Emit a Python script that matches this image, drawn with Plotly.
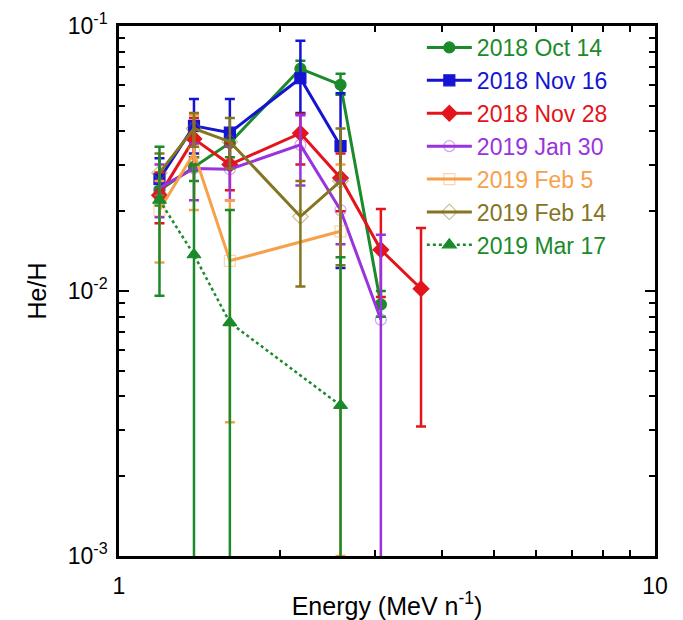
import plotly.graph_objects as go

# Energies (MeV/n)
E = [1.19, 1.38, 1.61, 2.18, 2.59, 3.08, 3.66]

names = ["2018 Oct 14", "2018 Nov 16", "2018 Nov 28", "2019 Jan 30",
         "2019 Feb 5", "2019 Feb 14", "2019 Mar 17"]
colors = ["#1a8a2a", "#1414d2", "#e3141b", "#9933dd", "#f7a04a", "#857420", "#1a8a2a"]

oct14_x = [E[0], E[1], E[2], E[3], E[4], E[5]]
oct14_y = [0.024, 0.0294, 0.0362, 0.069, 0.060, 0.0089]
oct14_hi = [0.027, 0.032, 0.040, 0.074, 0.066, 0.0100]
oct14_lo = [0.021, 0.026, 0.032, 0.064, 0.055, 0.0080]

nov16_x = [E[0], E[1], E[2], E[3], E[4]]
nov16_y = [0.0265, 0.042, 0.0396, 0.0635, 0.0352]
nov16_hi = [0.0317, 0.053, 0.053, 0.088, 0.0558]
nov16_lo = [0.022, 0.033, 0.030, 0.047, 0.0122]

nov28_x = [E[0], E[1], E[2], E[3], E[4], E[5], E[6]]
nov28_y = [0.0230, 0.0375, 0.030, 0.0394, 0.0267, 0.0143, 0.0102]
nov28_hi = [0.028, 0.045, 0.036, 0.0466, 0.033, 0.0204, 0.0173]
nov28_lo = [0.018, 0.030, 0.024, 0.030, 0.020, 0.0095, 0.00308]

jan30_x = [E[0], E[1], E[2], E[3], E[4], E[5]]
jan30_y = [0.0245, 0.029, 0.0288, 0.0356, 0.0202, 0.0078]
jan30_hi = [0.030, 0.036, 0.035, 0.046, 0.026, 0.0163]
jan30_lo = [0.019, 0.022, 0.022, 0.025, 0.015, 0.0005]

feb5_x = [E[0], E[1], E[2], E[4]]
feb5_y = [0.0202, 0.0332, 0.013, 0.0168]
feb5_hi = [0.026, 0.046, 0.022, 0.030]
feb5_lo = [0.0128, 0.0202, 0.0032, 0.001]

feb14_x = [E[0], E[1], E[2], E[3], E[4]]
feb14_y = [0.0279, 0.041, 0.0366, 0.0191, 0.026]
feb14_hi = [0.033, 0.047, 0.045, 0.026, 0.041]
feb14_lo = [0.023, 0.035, 0.029, 0.0104, 0.0125]

mar17_x = [E[0], E[1], E[2], E[4]]
mar17_y = [0.022, 0.0137, 0.0076, 0.0037]
mar17_hi = [0.035, 0.030, 0.0202, 0.0134]
mar17_lo = [0.0096, 0.0005, 0.0005, 0.0005]

series = [
    (oct14_x, oct14_y, oct14_hi, oct14_lo, "circle", 11, "solid"),
    (nov16_x, nov16_y, nov16_hi, nov16_lo, "square", 11, "solid"),
    (nov28_x, nov28_y, nov28_hi, nov28_lo, "diamond", 12, "solid"),
    (jan30_x, jan30_y, jan30_hi, jan30_lo, "circle-open", 11, "solid"),
    (feb5_x, feb5_y, feb5_hi, feb5_lo, "square-open", 11, "solid"),
    (feb14_x, feb14_y, feb14_hi, feb14_lo, "diamond-open", 12, "solid"),
    (mar17_x, mar17_y, mar17_hi, mar17_lo, "triangle-up", 12, "dot"),
]

fig = go.Figure()
for i, (xs, ys, hi, lo, sym, sz, dash) in enumerate(series):
    c = colors[i]
    openm = sym.endswith("open")
    fig.add_trace(go.Scatter(
        x=xs, y=ys, mode="lines+markers",
        name=f"<span style='color:{c}'>{names[i]}</span>",
        line=dict(color=c, width=3 if dash == "solid" else 2.5, dash=dash),
        marker=dict(symbol=sym, size=sz, color=c,
                    opacity=0.45 if openm else 1, line=dict(width=1.2, color=c)),
        error_y=dict(type="data", symmetric=False,
                     array=[h - y for h, y in zip(hi, ys)],
                     arrayminus=[y - l for l, y in zip(lo, ys)],
                     color=c, thickness=2.5, width=5),
    ))

font = "Liberation Sans, Arial, sans-serif"
fig.update_layout(
    width=683, height=620,
    margin=dict(l=119, r=28, t=26, b=64),
    paper_bgcolor="white", plot_bgcolor="white",
    font=dict(family=font, size=21, color="black"),
    showlegend=True,
    legend=dict(x=0.565, y=1.0, xanchor="left", yanchor="top",
                bgcolor="rgba(0,0,0,0)", font=dict(size=23),
                itemwidth=45, tracegroupgap=0),
    xaxis=dict(type="log", range=[0, 1], showline=True, linecolor="black",
               linewidth=2.5, mirror="ticks", ticks="inside", ticklen=10,
               tickwidth=2, tickcolor="black", showgrid=False, zeroline=False,
               tickvals=[1, 10], ticktext=["1", "10"], ticklabelstandoff=8,
               automargin=False,
               minor=dict(ticks="inside", ticklen=6, tickwidth=2, tickcolor="black",
                          tickvals=[2, 3, 4, 5, 6, 7, 8, 9], showgrid=False),
               title=dict(text="Energy (MeV n<sup>-1</sup>)", standoff=4),
               tickfont=dict(size=23)),
    yaxis=dict(type="log", range=[-3, -1], showline=True, linecolor="black",
               linewidth=2.5, mirror="ticks", ticks="inside", ticklen=10,
               tickwidth=2, tickcolor="black", showgrid=False, zeroline=False,
               tickvals=[0.001, 0.01, 0.1], ticklabelstandoff=4,
               automargin=False,
               ticktext=["10<sup>-3</sup>", "10<sup>-2</sup>", "10<sup>-1</sup>"],
               minor=dict(ticks="inside", ticklen=6, tickwidth=2, tickcolor="black",
                          tickvals=[0.002, 0.003, 0.004, 0.005, 0.006, 0.007, 0.008, 0.009,
                                    0.02, 0.03, 0.04, 0.05, 0.06, 0.07, 0.08, 0.09],
                          showgrid=False),
               title=dict(text="He/H", standoff=14),
               tickfont=dict(size=23)),
)

fig.write_html("out.html")
